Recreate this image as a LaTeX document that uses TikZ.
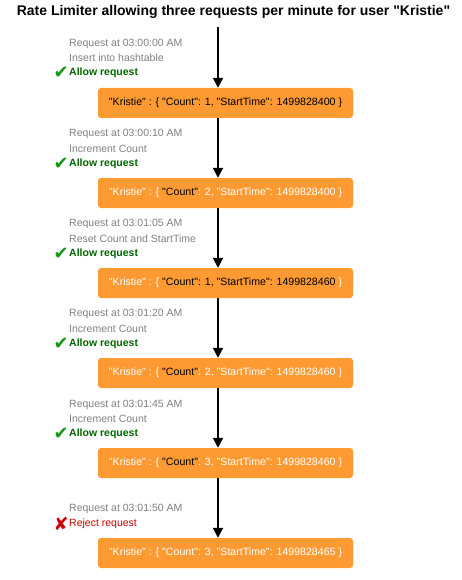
\documentclass[tikz,border=0pt]{standalone}
\usepackage{fontspec}
\setmainfont{Liberation Sans}[Ligatures=TeXOff]
\newfontfamily\symfont{DejaVu Sans}
\usepackage{tikz}
\usetikzlibrary{positioning}
\usetikzlibrary{arrows.meta}
\definecolor{boxorange}{RGB}{255,154,51}
\definecolor{notegray}{RGB}{128,128,128}
\definecolor{okgreen}{RGB}{0,102,0}
\definecolor{tickgreen}{RGB}{20,150,20}
\definecolor{badred}{RGB}{204,0,0}
\newcommand{\wt}[1]{\textcolor{white}{#1}}

\begin{document}
\begin{tikzpicture}[x=1pt, y=-1pt,
        entry/.style={draw=none, fill=boxorange, rounded corners=3pt, minimum width=255pt, minimum height=30pt, inner sep=0pt, font=\fontsize{10.6}{13}\selectfont},
        note/.style={anchor=west, inner sep=0pt, text=notegray, align=left, font=\fontsize{10.5}{15.5}\selectfont},
        verdict/.style={anchor=west, inner sep=0pt, font=\bfseries\fontsize{10.5}{12}\selectfont},
        glyph/.style={anchor=east, inner sep=0pt, font=\symfont\fontsize{18}{18}\selectfont},
        flow/.style={line width=2pt, -{Triangle[width=10pt,length=10pt]}}]

        \useasboundingbox (0,0) rectangle (461,580);

        % Title
        \node[font=\bfseries\fontsize{14}{16}\selectfont] (title) at (233.5,12) {Rate Limiter allowing three requests per minute for user "Kristie"};
        \coordinate (top) at (218,27);

        % Hashtable entries
        \node[entry] (e1) at (225.5,103) {"Kristie" : \{ "Count": 1, "StartTime": 1499828400 \}};
        \node[entry] (e2) at (225.5,193) {\wt{"Kristie" : \{} "Count"\wt{: 2, "StartTime": 1499828400 \}}};
        \node[entry] (e3) at (225.5,283) {\wt{"Kristie" : \{} "Count": 1, "StartTime": 1499828460 \wt{\}}};
        \node[entry] (e4) at (225.5,373) {\wt{"Kristie" : \{} "Count"\wt{: 2, "StartTime": 1499828460 \}}};
        \node[entry] (e5) at (225.5,463) {\wt{"Kristie" : \{} "Count"\wt{: 3, "StartTime": 1499828460 \}}};
        \node[entry] (e6) at (225.5,553) {\wt{"Kristie" : \{ "Count": 3, "StartTime": 1499828465 \}}};

        % Arrows
        \draw[flow] (top) -- (e1.north -| top);
        \draw[flow] (e1.south -| top) -- (e2.north -| top);
        \draw[flow] (e2.south -| top) -- (e3.north -| top);
        \draw[flow] (e3.south -| top) -- (e4.north -| top);
        \draw[flow] (e4.south -| top) -- (e5.north -| top);
        \draw[flow] (e5.south -| top) -- (e6.north -| top);

        % Requests
        \node[note] (n1) at (69,50.5) {Request at 03:00:00 AM\\Insert into hashtable};
        \node[verdict, text=okgreen] (v1) at (69,73) {Allow request};
        \node[glyph, text=tickgreen] (m1) at (v1.west) {✔};

        \node[note] (n2) at (69,141) {Request at 03:00:10 AM\\Increment Count};
        \node[verdict, text=okgreen] (v2) at (69,164) {Allow request};
        \node[glyph, text=tickgreen] (m2) at (v2.west) {✔};

        \node[note] (n3) at (69,231) {Request at 03:01:05 AM\\Reset Count and StartTime};
        \node[verdict, text=okgreen] (v3) at (69,254) {Allow request};
        \node[glyph, text=tickgreen] (m3) at (v3.west) {✔};

        \node[note] (n4) at (69,321) {Request at 03:01:20 AM\\Increment Count};
        \node[verdict, text=okgreen] (v4) at (69,344) {Allow request};
        \node[glyph, text=tickgreen] (m4) at (v4.west) {✔};

        \node[note] (n5) at (69,411.5) {Request at 03:01:45 AM\\Increment Count};
        \node[verdict, text=okgreen] (v5) at (69,434) {Allow request};
        \node[glyph, text=tickgreen] (m5) at (v5.west) {✔};

        \node[note] (n6) at (69,509) {Request at 03:01:50 AM};
        \node[verdict, text=badred, font=\fontsize{10.5}{12}\selectfont] (v6) at (69,524) {Reject request};
        \node[glyph, text=badred] (m6) at (v6.west) {✘};

\end{tikzpicture}
\end{document}
